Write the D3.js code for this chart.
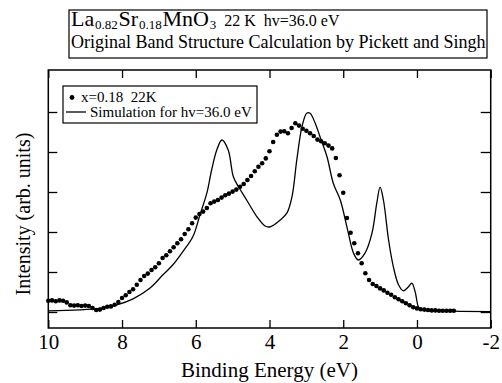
<!DOCTYPE html>
<html>
<head>
<meta charset="utf-8">
<script src="https://cdn.jsdelivr.net/npm/d3@7"></script>
<style>
  html, body { margin: 0; padding: 0; background: #fff; }
  svg text { font-family: "Liberation Serif", "Times New Roman", Times, serif !important; }
</style>
</head>
<body>
<svg id="chart" width="502" height="383"></svg>
<script>
// ---- Data ----
// Experimental points: x = 0.18, 22 K  (binding energy in eV, intensity arb.)
const expEnergy = [
  10.0, 9.9, 9.8, 9.7, 9.6, 9.5, 9.4, 9.3, 9.2, 9.1,
  9.0, 8.9, 8.8, 8.7, 8.6, 8.5, 8.4, 8.3, 8.2, 8.1,
  8.0, 7.9, 7.8, 7.7, 7.6, 7.5, 7.4, 7.3, 7.2, 7.1,
  7.0, 6.9, 6.8, 6.7, 6.6, 6.5, 6.4, 6.3, 6.2, 6.1,
  6.0, 5.9, 5.8, 5.7, 5.6, 5.5, 5.4, 5.3, 5.2, 5.1,
  5.0, 4.9, 4.8, 4.7, 4.6, 4.5, 4.4, 4.3, 4.2, 4.1,
  4.0, 3.9, 3.8, 3.7, 3.6, 3.5, 3.4, 3.3, 3.2, 3.1,
  3.0, 2.9, 2.8, 2.7, 2.6, 2.5, 2.4, 2.3, 2.2, 2.1,
  2.0, 1.9, 1.8, 1.7, 1.6, 1.5, 1.4, 1.3, 1.2, 1.1,
  1.0, 0.9, 0.8, 0.7, 0.6, 0.5, 0.4, 0.3, 0.2, 0.1,
  0.0, -0.1, -0.2, -0.3, -0.4, -0.5, -0.6, -0.7, -0.8, -0.9, -1.0
];
const expIntensity = [
  0.28, 0.29, 0.27, 0.29, 0.28, 0.24, 0.17, 0.16, 0.17, 0.15,
  0.16, 0.15, 0.10, 0.05, 0.06, 0.10, 0.13, 0.14, 0.18, 0.25,
  0.35, 0.42, 0.50, 0.57, 0.68, 0.80, 0.90, 0.96, 1.05, 1.12,
  1.22, 1.35, 1.42, 1.52, 1.62, 1.72, 1.82, 1.95, 2.07, 2.22,
  2.36, 2.45, 2.51, 2.60, 2.72, 2.76, 2.80, 2.86, 2.92, 2.96,
  3.01, 3.06, 3.13, 3.20, 3.30, 3.40, 3.52, 3.63, 3.72, 3.84,
  4.02, 4.25, 4.43, 4.51, 4.52, 4.47, 4.60, 4.72, 4.66, 4.58,
  4.53, 4.47, 4.40, 4.31, 4.27, 4.22, 4.16, 4.09, 3.85, 3.42,
  2.98, 2.35, 1.98, 1.72, 1.47, 1.22, 0.97, 0.80, 0.70, 0.65,
  0.59, 0.54, 0.48, 0.43, 0.37, 0.32, 0.27, 0.22, 0.17, 0.12,
  0.09, 0.07, 0.06, 0.05, 0.04, 0.04, 0.03, 0.03, 0.03, 0.03, 0.03
];

// Simulation for hv = 36.0 eV
const simEnergy = [
  10.0, 8.60, 8.14, 7.70, 7.24, 6.89, 6.62, 6.35, 6.08, 5.88,
  5.70, 5.57, 5.43, 5.29, 5.12, 4.98, 4.84, 4.62, 4.34, 4.12,
  3.98, 3.71, 3.53, 3.39, 3.26, 3.12, 2.99, 2.90, 2.76, 2.63,
  2.44, 2.27, 2.08, 1.90, 1.72, 1.59, 1.41, 1.22, 1.09, 1.00,
  0.91, 0.77, 0.64, 0.50, 0.37, 0.23, 0.14, 0.05, -0.04, -0.13,
  -1.00, -1.99
];
const simIntensity = [
  0.03, 0.09, 0.18, 0.33, 0.60, 0.93, 1.18, 1.51, 1.88, 2.45,
  2.97, 3.55, 4.05, 4.30, 4.05, 3.38, 3.13, 2.80, 2.38, 2.15,
  2.13, 2.30, 2.47, 2.88, 3.80, 4.63, 4.97, 4.97, 4.72, 4.38,
  3.88, 3.22, 2.80, 2.13, 1.47, 1.30, 1.47, 1.97, 2.72, 3.12,
  2.80, 1.80, 1.13, 0.68, 0.53, 0.63, 0.72, 0.51, 0.13, 0.05,
  0.02, 0.01
];

const xTicks = [10, 8, 6, 4, 2, 0, -2];
const xTickLabels = ["10", "8", "6", "4", "2", "0", "-2"];
const yTicks = [0, 1, 2, 3, 4, 5];

const xTitle = "Binding Energy (eV)";
const yTitle = "Intensity (arb. units)";
const legendExp = "x=0.18  22K";
const legendSim = "Simulation for hv=36.0 eV";
const titleParts = [
  ["La", "main"], ["0.82", "sub"], ["Sr", "main"], ["0.18", "sub"],
  ["MnO", "main"], ["3", "sub"], ["22 K  hv=36.0 eV", "small"]
];
const titleLine2 = "Original Band Structure Calculation by Pickett and Singh";

// ---- Layout ----
const W = 502, H = 383;
const margin = { left: 48.3, right: 11.3, top: 70, bottom: 55 };
const svg = d3.select("#chart");
const FF = "'Liberation Serif', 'Times New Roman', Times, serif";

const x = d3.scaleLinear().domain([10, -2]).range([margin.left, W - margin.right]);
const y = d3.scaleLinear().domain([-0.4, 6.05]).range([H - margin.bottom, margin.top]);

const pTop = margin.top, pBot = H - margin.bottom;
const pL = margin.left, pR = W - margin.right;

// Axes (ticks pointing inward)
const gBottom = svg.append("g").attr("transform", `translate(0,${pBot})`)
  .call(d3.axisBottom(x).tickValues(xTicks)
    .tickFormat((d, i) => xTickLabels[i])
    .tickSizeInner(-8).tickSizeOuter(0).tickPadding(6));
gBottom.attr("font-family", FF).attr("font-size", 21);
gBottom.selectAll("text").attr("fill", "#000");

svg.append("g").attr("transform", `translate(0,${pTop})`)
  .call(d3.axisTop(x).tickValues(xTicks).tickFormat("")
    .tickSizeInner(-8).tickSizeOuter(0));

svg.append("g").attr("transform", `translate(${pL},0)`)
  .call(d3.axisLeft(y).tickValues(yTicks).tickFormat("")
    .tickSizeInner(-9).tickSizeOuter(0));

svg.append("g").attr("transform", `translate(${pR},0)`)
  .call(d3.axisRight(y).tickValues(yTicks).tickFormat("")
    .tickSizeInner(-10).tickSizeOuter(0));

svg.selectAll(".domain").remove();
svg.selectAll(".tick line").attr("stroke", "#000").attr("stroke-width", 1.3);

// Frame
svg.append("rect")
  .attr("x", pL).attr("y", pTop)
  .attr("width", pR - pL).attr("height", pBot - pTop)
  .attr("fill", "none").attr("stroke", "#000").attr("stroke-width", 1.5);

// Simulation line
const simData = simEnergy.map((e, i) => [e, simIntensity[i]]);
svg.append("path")
  .datum(simData)
  .attr("fill", "none").attr("stroke", "#000").attr("stroke-width", 1.3)
  .attr("stroke-linejoin", "round")
  .attr("d", d3.line().x(d => x(d[0])).y(d => y(d[1])).curve(d3.curveCatmullRom.alpha(0.5)));

// Experimental points
const expData = expEnergy.map((e, i) => [e, expIntensity[i]]);
svg.append("g").selectAll("circle")
  .data(expData).join("circle")
  .attr("cx", d => x(d[0])).attr("cy", d => y(d[1]))
  .attr("r", 2.3).attr("fill", "#000");

// Axis titles
svg.append("text")
  .attr("x", (pL + pR) / 2).attr("y", 377)
  .attr("text-anchor", "middle").attr("font-size", 21).attr("font-family", FF)
  .text(xTitle);

svg.append("text")
  .attr("transform", `translate(30,${(pTop + pBot) / 2 + 15}) rotate(-90)`)
  .attr("text-anchor", "middle").attr("font-size", 20).attr("font-family", FF)
  .text(yTitle);

// Legend
const lg = svg.append("g").attr("font-family", FF);
lg.append("rect").attr("x", 63).attr("y", 86).attr("width", 194).attr("height", 37)
  .attr("fill", "#fff").attr("stroke", "#000").attr("stroke-width", 1.2);
lg.append("circle").attr("cx", 72).attr("cy", 97.5).attr("r", 2.4).attr("fill", "#000");
lg.append("text").attr("x", 81).attr("y", 102).attr("font-size", 15)
  .style("white-space", "pre").text(legendExp);
lg.append("line").attr("x1", 66).attr("x2", 86).attr("y1", 112).attr("y2", 112)
  .attr("stroke", "#000").attr("stroke-width", 1.3);
lg.append("text").attr("x", 90).attr("y", 117).attr("font-size", 15).text(legendSim);

// Title box
const tb = svg.append("g").attr("font-family", FF);
tb.append("rect").attr("x", 69).attr("y", 10).attr("width", 418).attr("height", 48)
  .attr("fill", "#fff").attr("stroke", "#000").attr("stroke-width", 1.2);
const partStyle = {
  main: { size: 22, dy: 0, gap: 0.8 },
  sub: { size: 13, dy: 3, gap: 0.8 },
  small: { size: 16, dy: 0, gap: 8 }
};
let cx = 71 - 0.8;
titleParts.forEach(([txt, kind]) => {
  const st = partStyle[kind];
  cx += st.gap;
  const t = tb.append("text").attr("x", cx).attr("y", 26 + st.dy)
    .attr("font-size", st.size).style("white-space", "pre").text(txt);
  cx += t.node().getComputedTextLength();
});
tb.append("text").attr("x", 71).attr("y", 47.5).attr("font-size", 18).text(titleLine2);
</script>
</body>
</html>
